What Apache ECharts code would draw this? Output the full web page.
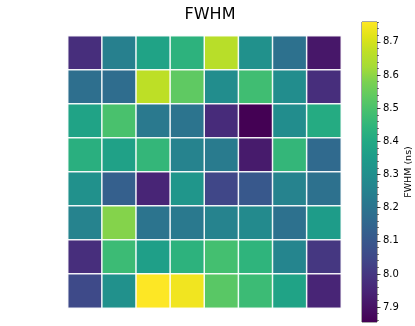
<!DOCTYPE html>
<html>
<head>
<meta charset="utf-8">
<script src="https://cdn.jsdelivr.net/npm/echarts@6/dist/echarts.min.js"></script>
<style>
  html, body { margin: 0; padding: 0; background: #fff; }
  #chart { width: 415px; height: 326px; }
</style>
</head>
<body>
<div id="chart"></div>
<script>
// FWHM per channel (ns), rows top -> bottom
const rowNames = ['0', '1', '2', '3', '4', '5', '6', '7'];
const colNames = ['0', '1', '2', '3', '4', '5', '6', '7'];

const row0 = [7.975, 8.246, 8.381, 8.435, 8.660, 8.309, 8.192, 7.912];
const row1 = [8.183, 8.174, 8.670, 8.535, 8.291, 8.480, 8.291, 7.975];
const row2 = [8.381, 8.498, 8.219, 8.201, 7.966, 7.855, 8.291, 8.408];
const row3 = [8.426, 8.372, 8.453, 8.255, 8.228, 7.921, 8.453, 8.165];
const row4 = [8.309, 8.129, 7.948, 8.327, 8.047, 8.102, 8.255, 8.192];
const row5 = [8.255, 8.589, 8.201, 8.219, 8.255, 8.282, 8.192, 8.354];
const row6 = [7.975, 8.471, 8.363, 8.435, 8.489, 8.444, 8.264, 8.002];
const row7 = [8.056, 8.309, 8.760, 8.742, 8.525, 8.471, 8.381, 7.948];

const rows = [row0, row1, row2, row3, row4, row5, row6, row7];

const colorbarTicks = [7.9, 8.0, 8.1, 8.2, 8.3, 8.4, 8.5, 8.6, 8.7];
const vMin = 7.855;
const vMax = 8.76;

const viridis = [
  '#440154', '#471365', '#482475', '#46337f', '#414487', '#3b528b',
  '#355f8d', '#2f6c8e', '#2a788e', '#25858e', '#21918c', '#1e9c89',
  '#22a884', '#2fb47c', '#44bf70', '#5ec962', '#7ad151', '#a5db36',
  '#bddf26', '#dfe318', '#fde725'
];

const minorTicks = [];
for (let i = 0; i <= 45; i++) {
  const v = Math.round((7.86 + i * 0.02) * 100) / 100;
  if (v <= vMax) minorTicks.push(v);
}

const heatData = [];
rows.forEach((row, r) => {
  row.forEach((v, c) => heatData.push([c, r, v]));
});

const font = 'DejaVu Sans';
const chart = echarts.init(document.getElementById('chart'), null, { renderer: 'canvas' });

chart.setOption({
  animation: false,
  backgroundColor: '#fff',
  title: {
    text: 'FWHM',
    left: 205,
    top: 2,
    textAlign: 'center',
    textStyle: { fontFamily: font, fontSize: 16, fontWeight: 'normal', color: '#000' }
  },
  grid: [
    { left: 68, top: 36, width: 273, height: 272 },
    { left: 362, top: 22, width: 16, height: 300, show: true, borderColor: '#222', borderWidth: 0.8, backgroundColor: 'transparent' }
  ],
  xAxis: [
    { type: 'category', data: colNames, gridIndex: 0, show: false },
    { type: 'category', data: ['cb'], gridIndex: 1, show: false }
  ],
  yAxis: [
    { type: 'category', data: rowNames, gridIndex: 0, inverse: true, show: false },
    {
      type: 'value', gridIndex: 1, position: 'right', min: vMin, max: vMax,
      axisLine: { show: false },
      splitLine: { show: false },
      axisTick: { show: true, length: 3.5, customValues: colorbarTicks, lineStyle: { color: '#222', width: 0.8 } },
      axisLabel: {
        customValues: colorbarTicks, margin: 6,
        fontFamily: font, fontSize: 10, color: '#000',
        formatter: v => v.toFixed(1)
      },
      name: 'FWHM (ns)',
      nameLocation: 'middle',
      nameRotate: 90,
      nameGap: 27,
      nameTextStyle: { fontFamily: font, fontSize: 9.5, color: '#000' }
    },
    {
      type: 'value', gridIndex: 1, position: 'right', min: vMin, max: vMax,
      axisLine: { show: false },
      splitLine: { show: false },
      axisLabel: { show: false },
      axisTick: { show: true, length: 2, customValues: minorTicks, lineStyle: { color: '#222', width: 0.6 } }
    }
  ],
  visualMap: {
    type: 'continuous',
    show: false,
    seriesIndex: 0,
    min: vMin,
    max: vMax,
    inRange: { color: viridis }
  },
  series: [
    {
      type: 'heatmap',
      xAxisIndex: 0,
      yAxisIndex: 0,
      data: heatData,
      itemStyle: { borderColor: 'rgba(255,255,255,0.9)', borderWidth: 1.5 },
      emphasis: { disabled: true }
    },
    {
      type: 'bar',
      xAxisIndex: 1,
      yAxisIndex: 1,
      data: [vMax],
      barWidth: '100%',
      itemStyle: {
        color: new echarts.graphic.LinearGradient(0, 1, 0, 0,
          viridis.map((c, i) => ({ offset: i / (viridis.length - 1), color: c })))
      },
      silent: true
    }
  ]
});
</script>
</body>
</html>
